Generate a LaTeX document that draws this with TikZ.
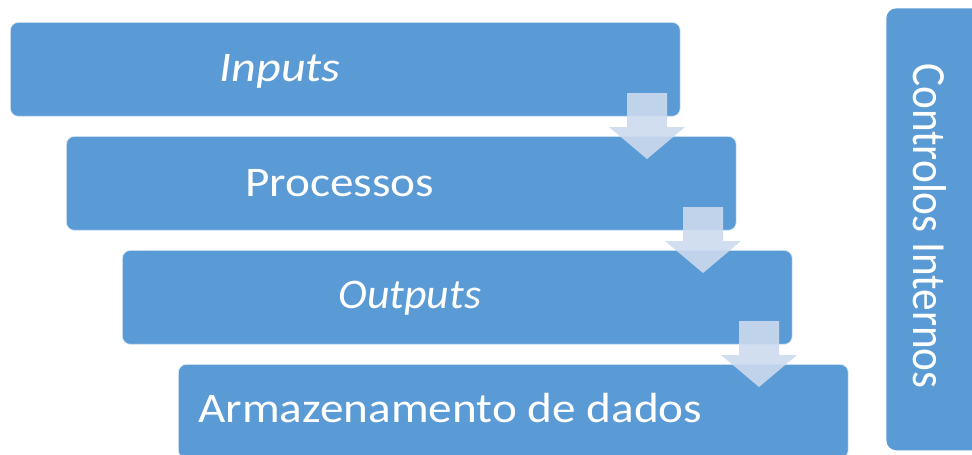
\documentclass[tikz,border=0pt]{standalone}
\usepackage{fontspec}
\setmainfont{Carlito}
\usetikzlibrary{positioning}

\definecolor{boxblue}{HTML}{5B9BD5}
\definecolor{arrowblue}{HTML}{CCDAEE}

\begin{document}
\begin{tikzpicture}[
        x=0.02cm, y=-0.02cm,
        stage/.style={anchor=north west, fill=boxblue, draw=white!80!boxblue, line width=0.4pt,
            rounded corners=0.16cm, minimum width=13.4cm, minimum height=1.88cm, inner sep=0pt},
        stagetext/.style={anchor=base west, inner sep=0pt, text=white, xscale=1.12,
            font=\fontsize{24}{28}\selectfont},
        sidebox/.style={anchor=north west, fill=boxblue, rounded corners=0.2cm,
            minimum width=2.2cm, minimum height=8.84cm, inner sep=0pt},
        flowarrow/.style={fill=arrowblue, fill opacity=0.9}
    ]
    \useasboundingbox (0,0) rectangle (972,454);
    \clip (0,0) rectangle (972,454);

    % stages
    \node (s1) [stage] at (10,22)  {};
    \node (s2) [stage] at (66,136) {};
    \node (s3) [stage] at (122,250) {};
    \node (s4) [stage] at (178,364) {};

    \node (t1) [stagetext, xscale=1.02] at (219,81)  {\itshape Inputs};
    \node (t2) [stagetext] at (245,196) {Processos};
    \node (t3) [stagetext, xscale=0.93] at (338,308) {\itshape Outputs};
    \node (t4) [stagetext] at (198,422) {Armazenamento de dados};

    % arrows between the stages
    \foreach \i in {0,1,2} {
        \fill [flowarrow, shift={(56*\i,114*\i)}]
            (627,93) -- (667,93) -- (667,127) -- (685,127) -- (647,159)
            -- (609,127) -- (627,127) -- cycle;
    }

    % side box
    \node (ctrl) [sidebox] at (886,8) {};
    \node (ctrltext) [text=white, rotate=-90, yscale=1.1, inner sep=0pt,
        font=\fontsize{24.6}{29}\selectfont] at (930,226) {Controlos Internos};
\end{tikzpicture}
\end{document}
